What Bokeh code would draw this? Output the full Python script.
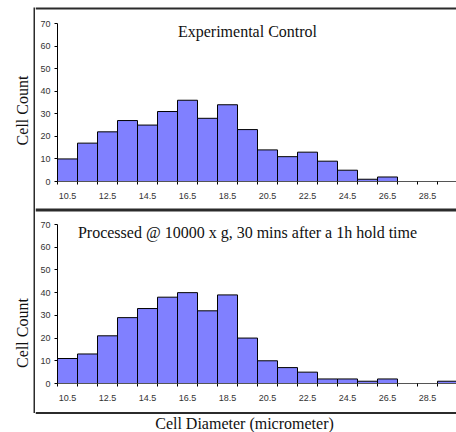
import math
from bokeh.plotting import figure
from bokeh.layouts import column, row
from bokeh.models import Range1d, FixedTicker, Label, Span, ColumnDataSource
from bokeh.embed import file_html
from bokeh.resources import INLINE
from bokeh.core.validation import silence
from bokeh.core.validation.warnings import MISSING_RENDERERS

silence(MISSING_RENDERERS, True)

# ---------------- data ----------------
bin_centers = [10.5, 11.5, 12.5, 13.5, 14.5, 15.5, 16.5, 17.5, 18.5, 19.5,
               20.5, 21.5, 22.5, 23.5, 24.5, 25.5, 26.5, 27.5, 28.5, 29.5]
control_counts = [10, 17, 22, 27, 25, 31, 36, 28, 34, 23,
                  14, 11, 13, 9, 5, 1, 2, 0, 0, 0]
processed_counts = [11, 13, 21, 29, 33, 38, 40, 32, 39, 20,
                    10, 7, 5, 2, 2, 1, 2, 0, 0, 1]
x_tick_values = [10.5, 12.5, 14.5, 16.5, 18.5, 20.5, 22.5, 24.5, 26.5, 28.5]
x_tick_labels = ["10.5", "12.5", "14.5", "16.5", "18.5", "20.5", "22.5", "24.5", "26.5", "28.5"]
y_tick_values = [0, 10, 20, 30, 40, 50, 60, 70]
panel_titles = ["Experimental Control",
                "Processed @ 10000 x g, 30 mins after a 1h hold time"]
y_label = "Cell Count"
x_label = "Cell Diameter (micrometer)"

BG = "#ffffff"
LINE = "#2b2b2b"
BAR = "#8080ff"
SERIF = "Liberation Serif"
SANS = "Liberation Sans"
TXT = "#111111"


def no_align(f):
    # keep this block's frame from being aligned with the neighbouring plots
    try:
        f.frame_align = False
    except Exception:
        pass
    return f


def blank(width, height, color=BG):
    """A plain block whose frame fills the whole canvas (page margins, border lines)."""
    f = figure(width=width, height=height, output_backend="svg", toolbar_location=None,
               title=None, x_range=Range1d(0, width), y_range=Range1d(0, height),
               x_axis_location=None, y_axis_location=None,
               min_border=0, min_border_left=0, min_border_right=0,
               min_border_top=0, min_border_bottom=0,
               background_fill_color=color, border_fill_color=color,
               outline_line_color=None)
    f.xgrid.visible = False
    f.ygrid.visible = False
    return no_align(f)


def hline_block(width, height, y_line, lw):
    f = blank(width, height)
    f.add_layout(Span(location=y_line, dimension="width", line_color=LINE,
                      line_width=lw))
    return f


def make_panel(counts, title, height, top, bottom):
    p = figure(width=421, height=height, output_backend="svg", toolbar_location=None,
               title=None,
               x_range=Range1d(10, 29.95), y_range=Range1d(0, 70),
               min_border_left=22, min_border_right=0,
               min_border_top=top, min_border_bottom=bottom,
               background_fill_color="white", border_fill_color="white",
               outline_line_color=None)
    p.xgrid.visible = False
    p.ygrid.visible = False

    xs = [c for c, v in zip(bin_centers, counts) if v > 0]
    ys = [v for v in counts if v > 0]
    src = ColumnDataSource(dict(x=xs, top=ys))
    p.vbar(x="x", top="top", bottom=0, width=1.0, source=src,
           fill_color=BAR, line_color="#000000", line_width=1)

    edges = [c - 0.5 for c in bin_centers] + [bin_centers[-1] + 0.5]
    xa = p.xaxis[0]
    xa.ticker = FixedTicker(ticks=x_tick_values, minor_ticks=edges)
    xa.major_label_overrides = {v: s for v, s in zip(x_tick_values, x_tick_labels)}
    xa.major_tick_out = 0
    xa.major_tick_in = 0
    xa.minor_tick_out = 3
    xa.minor_tick_in = 0
    xa.minor_tick_line_color = "#000000"
    xa.axis_line_color = "#555555"
    xa.major_label_standoff = 8
    xa.major_label_text_font = SANS
    xa.major_label_text_font_size = "9px"
    xa.major_label_text_color = "#333333"

    ya = p.yaxis[0]
    ya.ticker = FixedTicker(ticks=y_tick_values)
    ya.major_tick_out = 3
    ya.major_tick_in = 0
    ya.minor_tick_out = 0
    ya.minor_tick_in = 0
    ya.axis_line_color = "#000000"
    ya.major_label_standoff = 4
    ya.major_label_text_font = SANS
    ya.major_label_text_font_size = "9px"
    ya.major_label_text_color = "#333333"

    p.add_layout(Label(x=19.5, y=66.6, text=title, text_align="center",
                       text_baseline="middle", text_font=SERIF,
                       text_font_size="16px", text_color=TXT))
    return p


# right column: top border, panel 1, middle border, panel 2, bottom border + x label
top_block = hline_block(421, 15, 7, 2)
p1 = make_panel(control_counts, panel_titles[0], 186, 8, 19)
mid_block = hline_block(421, 14, 5.5, 3)
p2 = make_panel(processed_counts, panel_titles[1], 190, 9, 22)
bottom_block = hline_block(421, 27, 19.5, 2)
bottom_block.add_layout(Label(x=209, y=9.5, text=x_label, text_align="center",
                              text_baseline="middle", text_font=SERIF,
                              text_font_size="16px", text_color=TXT))
right_col = column(top_block, p1, mid_block, p2, bottom_block, spacing=0)

# left border line of both panel boxes
vline_col = column(blank(2, 7), blank(2, 406, LINE), blank(2, 19), spacing=0)

# y-axis titles, outside the boxes
left = blank(33, 432)
left.add_layout(Label(x=22, y=432 - 110, text=y_label, angle=math.pi / 2,
                      text_align="center", text_baseline="middle",
                      text_font=SERIF, text_font_size="16px", text_color=TXT))
left.add_layout(Label(x=22, y=432 - 332.5, text=y_label, angle=math.pi / 2,
                      text_align="center", text_baseline="middle",
                      text_font=SERIF, text_font_size="16px", text_color=TXT))

layout = row(left, vline_col, right_col, spacing=0)
open("out.html", "w").write(file_html(layout, INLINE))
